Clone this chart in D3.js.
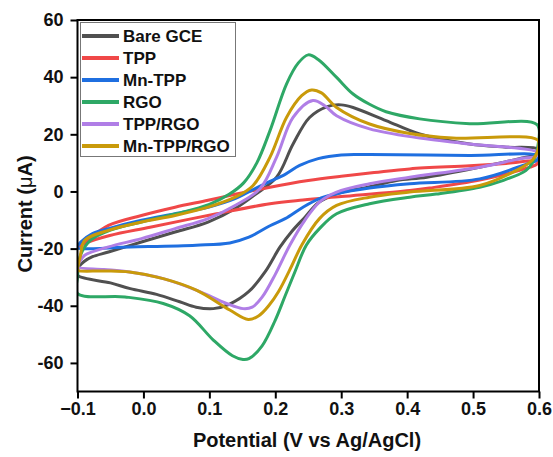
<!DOCTYPE html>
<html>
<head>
<meta charset="utf-8">
<script src="https://cdn.jsdelivr.net/npm/d3@7"></script>
<style>
  body { margin: 0; background: #fff; }
  text { font-family: "Liberation Sans", Arial, sans-serif; font-weight: bold; fill: #111; }
</style>
</head>
<body>
<script>
// ---------- data: each CV loop as [potential (V), current (uA)], forward then reverse ----------
const names = ["Bare GCE", "TPP", "Mn-TPP", "RGO", "TPP/RGO", "Mn-TPP/RGO"];
const colors = ["#505050", "#f04848", "#1f6fe0", "#2ea866", "#b07ee6", "#c99a0a"];

const bareGCE = [[-0.1,-27],[-0.09,-24.5],[-0.078,-22.9],[-0.053,-21.2],[-0.003,-17.7],[0.048,-14.2],[0.098,-10.7],
  [0.139,-6],[0.17,-1],[0.202,5],[0.227,16.6],[0.252,25.9],[0.28,29.8],[0.3,30.3],[0.318,29.4],[0.368,24.8],
  [0.419,20.1],[0.495,16.6],[0.55,15.5],[0.598,14.8],
  [0.597,13.2],[0.57,11.5],[0.51,8.5],[0.43,5],[0.384,3.8],[0.34,1.5],[0.293,-0.8],[0.265,-4],[0.245,-9],
  [0.225,-14],[0.207,-19.5],[0.185,-28],[0.16,-35],[0.13,-39.5],[0.106,-41],[0.08,-40.5],[0.055,-38.6],[0.02,-36],
  [-0.02,-34],[-0.05,-32],[-0.1,-29.3]];

const tpp = [[-0.1,-19.5],[-0.089,-17.7],[-0.053,-11.9],[-0.003,-8.4],[0.048,-5.5],[0.098,-3.1],[0.139,-1],
  [0.192,1.5],[0.25,3.8],[0.3,5.3],[0.35,6.6],[0.404,7.9],[0.495,9],[0.55,9.8],[0.598,10.6],
  [0.597,9.6],[0.586,8.5],[0.51,4],[0.434,1.2],[0.404,0.35],[0.3,-1.8],[0.242,-3],[0.192,-4.3],[0.111,-7.8],
  [0.01,-12.5],[-0.051,-15.4],[-0.091,-18.3]];

const mnTPP = [[-0.1,-19.4],[-0.095,-17.7],[-0.078,-14.8],[-0.053,-13],[-0.003,-10.1],[0.048,-7.8],[0.098,-5.5],
  [0.139,-2.5],[0.165,0.5],[0.192,3.5],[0.215,6],[0.237,9.1],[0.265,11.5],[0.3,12.8],[0.343,12.9],[0.495,12.6],
  [0.598,12.5],
  [0.597,11],[0.58,9.5],[0.51,4.4],[0.404,2.7],[0.343,1.2],[0.293,-0.8],[0.267,-2.5],[0.242,-5.5],[0.215,-9.5],
  [0.192,-12],[0.16,-16],[0.131,-18],[0.08,-18.8],[-0.02,-19.4],[-0.1,-19.8]];

const rgo = [[-0.1,-30],[-0.095,-22],[-0.08,-17],[-0.05,-13.5],[0,-10.5],[0.05,-7.8],[0.1,-4.5],[0.13,-1],
  [0.152,3],[0.172,10],[0.192,21.3],[0.217,37.6],[0.235,45],[0.25,47.8],[0.265,46.2],[0.293,39.9],[0.318,34.1],
  [0.343,30.5],[0.368,27.9],[0.419,25.4],[0.495,23.7],[0.597,23.4],
  [0.599,17],[0.59,10],[0.58,7.3],[0.545,3.8],[0.51,1.5],[0.444,-0.9],[0.404,-2],[0.343,-4.3],[0.293,-7.8],
  [0.267,-13],[0.247,-18.8],[0.23,-28],[0.215,-36.5],[0.2,-45],[0.18,-54],[0.16,-58.5],[0.151,-58.8],
  [0.135,-57.5],[0.106,-52],[0.07,-43.5],[0.03,-39.2],[-0.028,-36.9],[-0.1,-35.7]];

const tppRGO = [[-0.1,-26],[-0.097,-24.7],[-0.089,-22.3],[-0.053,-19.4],[-0.003,-16.5],[0.048,-13],[0.098,-9.5],
  [0.139,-4.9],[0.177,1],[0.202,12],[0.227,25.9],[0.257,31.8],[0.275,30],[0.293,26.5],[0.343,21.9],[0.419,18.7],
  [0.495,16.6],[0.598,13.7],
  [0.597,12.5],[0.57,11.4],[0.51,8.5],[0.404,5],[0.343,2.7],[0.293,-0.2],[0.267,-3.7],[0.245,-10],[0.222,-18.8],
  [0.2,-29],[0.18,-37],[0.165,-40.5],[0.151,-41],[0.126,-39.2],[0.081,-34.6],[0.03,-30.5],
  [-0.021,-28.2],[-0.06,-27.3],[-0.1,-26.5]];

const mnTPPRGO = [[-0.1,-27],[-0.096,-23],[-0.089,-17.1],[-0.053,-13.6],[-0.003,-10.7],[0.048,-8.4],[0.098,-5.5],
  [0.139,-2],[0.166,2],[0.192,12],[0.217,25.9],[0.24,33.5],[0.255,35.5],[0.27,34.5],[0.293,29.4],[0.343,23.6],
  [0.404,20.3],[0.469,18.7],[0.598,18],
  [0.599,15],[0.59,11],[0.565,7.3],[0.51,2.1],[0.404,-0.2],[0.343,-2],[0.293,-4.9],[0.267,-9.5],[0.24,-18.8],
  [0.225,-26],[0.205,-35],[0.19,-40],[0.175,-43.5],[0.159,-44.8],[0.131,-41.5],[0.081,-34.6],[0.03,-30.5],
  [-0.021,-28.2],[-0.06,-27.8],[-0.1,-27.6]];

const series = [bareGCE, tpp, mnTPP, rgo, tppRGO, mnTPPRGO];
const xTicks = [-0.1, 0.0, 0.1, 0.2, 0.3, 0.4, 0.5, 0.6];
const yTicks = [-60, -40, -20, 0, 20, 40, 60];

// ---------- layout ----------
const W = 553, H = 457;
const mLeft = 77.5, mRight = 539, mTop = 20, mBottom = 391.5;

const svg = d3.select("body").append("svg")
  .attr("width", W).attr("height", H);

const x = d3.scaleLinear().domain([-0.1, 0.6]).range([mLeft, mRight]);
const y = d3.scaleLinear().domain([-70, 60]).range([mBottom, mTop]);

svg.append("clipPath").attr("id", "clip")
  .append("rect").attr("x", mLeft).attr("y", mTop)
  .attr("width", mRight - mLeft).attr("height", mBottom - mTop);

// ---------- curves ----------
const line = d3.line()
  .x(d => x(d[0]))
  .y(d => y(d[1]))
  .curve(d3.curveCatmullRomClosed.alpha(0.5));

const plot = svg.append("g").attr("clip-path", "url(#clip)");
series.forEach((s, i) => {
  plot.append("path")
    .datum(s)
    .attr("d", line)
    .attr("fill", "none")
    .attr("stroke", colors[i])
    .attr("stroke-width", 3)
    .attr("stroke-linejoin", "round");
});

// ---------- frame & axes ----------
svg.append("rect")
  .attr("x", mLeft).attr("y", mTop)
  .attr("width", mRight - mLeft).attr("height", mBottom - mTop)
  .attr("fill", "none").attr("stroke", "#000").attr("stroke-width", 2);

const xAxis = svg.append("g")
  .attr("transform", "translate(0," + mBottom + ")")
  .call(d3.axisBottom(x).tickValues(xTicks).tickFormat(d3.format(".1f")).tickSize(7).tickPadding(4));
const yAxis = svg.append("g")
  .attr("transform", "translate(" + mLeft + ",0)")
  .call(d3.axisLeft(y).tickValues(yTicks).tickFormat(d => d).tickSize(7).tickPadding(7));

[xAxis, yAxis].forEach(a => {
  a.select(".domain").remove();
  a.selectAll(".tick line").attr("stroke", "#000").attr("stroke-width", 2);
  a.selectAll(".tick text")
    .style("font-family", "'Liberation Sans', Arial, sans-serif")
    .style("font-weight", "bold")
    .style("font-size", "18px")
    .attr("fill", "#111");
});

// axis titles
svg.append("text")
  .attr("x", 307).attr("y", 447)
  .attr("text-anchor", "middle")
  .style("font-size", "20px")
  .text("Potential (V vs Ag/AgCl)");

const yl = svg.append("text")
  .attr("transform", "translate(32,214) rotate(-90)")
  .attr("text-anchor", "middle")
  .style("font-size", "20px");
yl.append("tspan").text("Current (");
yl.append("tspan").style("font-weight", "normal").text("μ");
yl.append("tspan").text("A)");

// ---------- legend ----------
const legend = svg.append("g");
legend.append("rect")
  .attr("x", 80.5).attr("y", 22.5).attr("width", 155).attr("height", 134)
  .attr("fill", "#fff").attr("stroke", "#777").attr("stroke-width", 1);

names.forEach((n, i) => {
  const ly = 36 + i * 22;
  legend.append("line")
    .attr("x1", 82).attr("x2", 119).attr("y1", ly).attr("y2", ly)
    .attr("stroke", colors[i]).attr("stroke-width", 4);
  legend.append("text")
    .attr("x", 123).attr("y", ly + 6)
    .style("font-size", "17px")
    .text(n);
});
</script>
</body>
</html>
